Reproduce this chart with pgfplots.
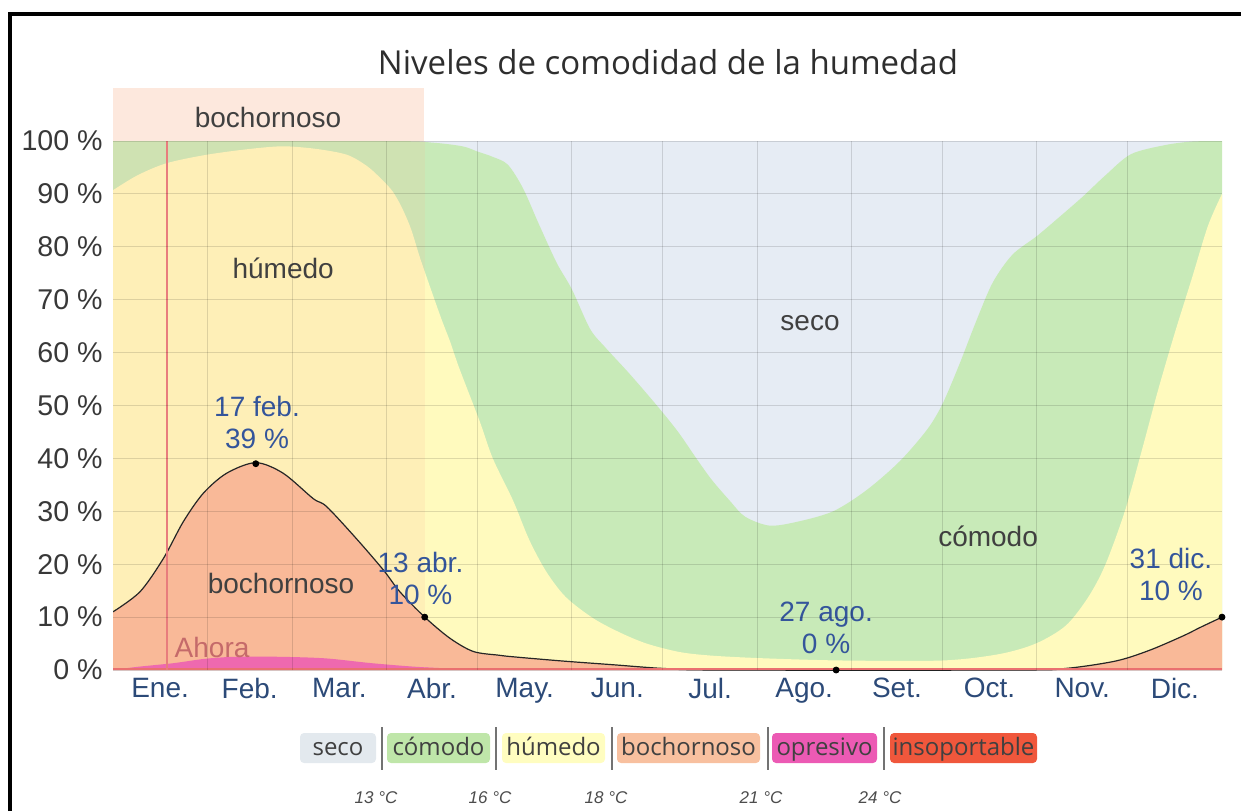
\documentclass[border=0pt]{standalone}
\usepackage{pgfplots}
\usepackage{pgfplotstable}
\pgfplotsset{compat=1.18}
\usepackage{fontspec}
\setmainfont{Liberation Sans}
\newfontfamily\osans{Open Sans}

\definecolor{seco}{RGB}{230,236,244}
\definecolor{comodo}{RGB}{200,234,184}
\definecolor{humedo}{RGB}{255,250,190}
\definecolor{bochorno}{RGB}{249,185,152}
\definecolor{opresivo}{RGB}{236,90,180}
\definecolor{insop}{RGB}{240,87,60}
\definecolor{anotac}{RGB}{52,85,155}
\definecolor{mes}{RGB}{44,74,120}
\definecolor{ahora}{RGB}{232,125,125}
\definecolor{lsec}{RGB}{227,233,238}
\definecolor{lcom}{RGB}{191,230,169}
\definecolor{lhum}{RGB}{255,253,192}
\definecolor{lboc}{RGB}{248,192,159}

% upper edge of each band, % of days, x = day of year
\pgfplotstableread{
day pct
0 100
90 100
105 99.7
115 99
120 98
125 97
130 95.5
135 91
140 84.5
146 77
151 72
157 64.5
162 61
170 56
179 50
186 45
192 40
197 36
203 32
208 29
216 27.3
225 28
237 30
248 34
259 39.5
268 45.5
273 50.3
278.5 57.7
284 65.8
289.5 73.2
296 78.5
304 82
311 85.4
319 89.4
326.6 93.5
335 97.5
346 99.2
355 99.9
365 100
}\comodo

\pgfplotstableread{
day pct
0 90.7
8 93.5
17.6 95.8
30.8 97.4
45 98.5
56 99
67 98.5
77 97.4
83.5 95.3
88 93
92 90.5
95 87.5
98 83.5
101 78
104 73
108 66.5
111 62
114 57
120.7 47
125 40
131.7 32
137 24.6
142.6 18.6
149 13.8
158 9.8
166.8 7.1
175.6 5
186.5 3.4
197.5 2.7
215 2.2
240 1.8
273 1.8
291.6 3
303.7 5
313.6 8.4
321 13.8
326.6 19.9
333 30
338.6 41.5
344 53
349.5 63.8
355 73.9
360.4 84
365 90
}\humedo

\pgfplotstableread{
day pct
0 11
8.9 14.8
16.6 21.1
23.1 28
29.7 33.4
37.4 37.2
47 39.2
56 37.2
65.9 32.4
70.3 30.9
80 24.9
89 18.9
94.4 14.8
102.6 10
110.9 6
118.6 3.5
127 2.8
131.7 2.5
148 1.7
164.5 1
181 0.3
200 0
297 0
313.6 0.3
330 1.7
341 3.7
352 6.4
358 8.1
365 10
}\bochornoso

\pgfplotstableread{
day pct
0 0
8 0.6
20 1.3
30 2.1
40 2.5
55 2.5
70 2.2
85 1.3
100 0.6
115 0.2
130 0
365 0
}\opresivo

\begin{document}
\begin{tikzpicture}
\path[use as bounding box] (0,0) rectangle (620.5pt,-405.5pt);

\begin{axis}[
    at={(56.5pt,-335pt)}, anchor=south west,
    scale only axis, width=554.5pt, height=264.5pt,
    xmin=0, xmax=365, ymin=0, ymax=100,
    axis on top,
    axis line style={draw=none},
    major tick length=0pt, minor tick length=0pt,
    xtick={15.5,45,74.5,105,135.5,166,196.5,227.5,258,288.5,319,349.5},
    xticklabels={Ene.,Feb.,Mar.,Abr.,May.,Jun.,Jul.,Ago.,Set.,Oct.,Nov.,Dic.},
    minor xtick={31,59,90,120,151,181,212,243,273,304,334},
    xminorgrids, ymajorgrids,
    grid style={black, opacity=0.13, line width=0.5pt},
    minor grid style={black, opacity=0.13, line width=0.5pt},
    ytick={0,10,...,100},
    /pgf/number format/assume math mode=true,
    yticklabel={\pgfmathprintnumber{\tick}\ \%},
    yticklabel style={font=\fontsize{14.3}{16}\selectfont, text=black!78, inner sep=0pt, xshift=-5pt},
    xticklabel style={font=\fontsize{14}{16}\selectfont, text=mes, inner sep=0pt, yshift=-4pt},
]
\addplot[fill=seco, draw=none] coordinates {(0,100) (365,100)} \closedcycle;
\addplot[fill=comodo, draw=none, smooth] table {\comodo} \closedcycle;
\addplot[fill=humedo, draw=none, smooth] table {\humedo} \closedcycle;
\addplot[fill=bochorno, draw=none, smooth] table {\bochornoso} \closedcycle;
\addplot[fill=opresivo, draw=none, smooth] table {\opresivo} \closedcycle;

% tinted period up to 13 abr.
\fill[bochorno, opacity=0.16] (axis cs:0,0) rectangle (axis cs:102.6,100);

\addplot[black!85, line width=0.6pt, smooth] table {\bochornoso};
\draw[ahora!90!red, line width=0.8pt] (axis cs:0,0.2) -- (axis cs:365,0.2);
\draw[ahora, line width=1pt] (axis cs:17.8,0) -- (axis cs:17.8,100);

\addplot[only marks, mark=*, mark size=1.5pt, black] coordinates {(47,39) (102.6,10) (238,0) (365,10)};

\begin{scope}[font=\fontsize{14}{16}\selectfont]
\node[text=black!75] at (axis cs:56,76) {húmedo};
\node[text=black!75] at (axis cs:229.4,65.6) {seco};
\node[text=black!75] at (axis cs:288,25.3) {cómodo};
\node[text=black!75] at (axis cs:55.3,16.4) {bochornoso};
\node[text=ahora!85!black] at (axis cs:32.6,4.3) {Ahora};
\node[text=anotac, align=center] at (axis cs:47.4,46.8) {17 feb.\\39 \%};
\node[text=anotac, align=center] at (axis cs:101.2,17.3) {13 abr.\\10 \%};
\node[text=anotac, align=center] at (axis cs:234.7,8) {27 ago.\\0 \%};
\node[text=anotac, align=center] at (axis cs:348.2,18) {31 dic.\\10 \%};
\end{scope}
\end{axis}

\begin{scope}[x=0.5pt, y=-0.5pt]
% frame
\draw[black, line width=2pt] (10,811) -- (10,14) -- (1241,14);
% title
\node[font=\osans\fontsize{16.5}{18}\selectfont, text=black!82] at (668,62) {Niveles de comodidad de la humedad};
% top band
\fill[bochorno, opacity=0.33] (113,88) rectangle (424,141);
\node[font=\fontsize{14}{16}\selectfont, text=black!75] at (268,117) {bochornoso};

% legend
\begin{scope}[font=\osans\fontsize{12}{14}\selectfont, every node/.style={anchor=base, inner sep=0pt}]
\fill[lsec, rounded corners=2pt] (300,733) rectangle (376,763);
\node[text=black!75] at (338,755) {seco};
\fill[lcom, rounded corners=2pt] (387,733) rectangle (490,763);
\node[text=black!75] at (438.5,755) {cómodo};
\fill[lhum, rounded corners=2pt] (502,733) rectangle (605,763);
\node[text=black!75] at (553.5,755) {húmedo};
\fill[lboc, rounded corners=2pt] (617,733) rectangle (760,763);
\node[text=black!75] at (688.5,755) {bochornoso};
\fill[opresivo, rounded corners=2pt] (772,733) rectangle (877,763);
\node[text=black!75] at (824.5,755) {opresivo};
\fill[insop, rounded corners=2pt] (890,733) rectangle (1037,763);
\node[text=black!75] at (963.5,755) {insoportable};
\end{scope}
\foreach \s in {381.5,496,611.5,767.5,883.5}
  \draw[black!55, line width=1pt] (\s,727) -- (\s,770);
\begin{scope}[font=\fontsize{8.5}{10}\selectfont\itshape, text=black!70]
\node at (376,798) {13 °C};
\node at (490,798) {16 °C};
\node at (606,798) {18 °C};
\node at (761,798) {21 °C};
\node at (880,798) {24 °C};
\end{scope}
\end{scope}
\end{tikzpicture}
\end{document}
